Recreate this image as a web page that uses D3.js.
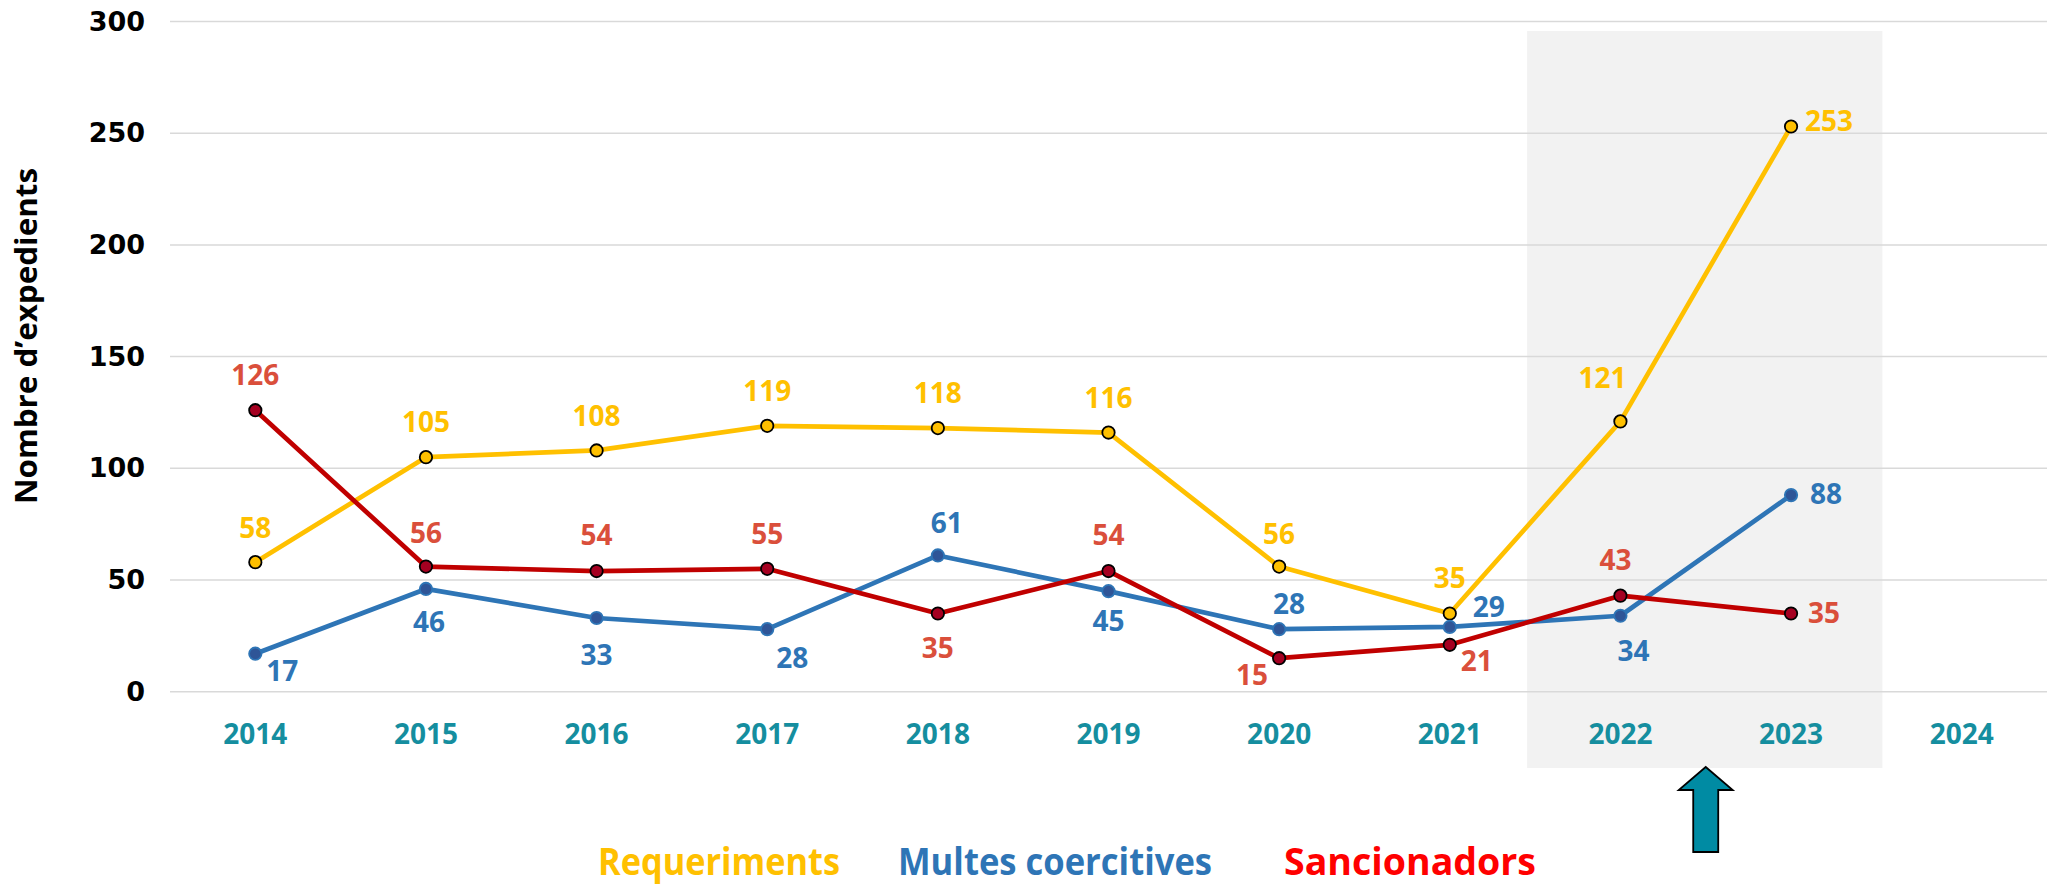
<!DOCTYPE html>
<html>
<head>
<meta charset="utf-8">
<script src="https://cdn.jsdelivr.net/npm/d3@7"></script>
<style>
  html, body { margin: 0; padding: 0; background: #fff; }
  svg { display: block; }
</style>
</head>
<body>
<svg id="chart" width="2055" height="885"></svg>
<script>
// ---- data ----
const years = ["2014","2015","2016","2017","2018","2019","2020","2021","2022","2023","2024"];
const requeriments = [58,105,108,119,118,116,56,35,121,253];
const multes = [17,46,33,28,61,45,28,29,34,88];
const sancionadors = [126,56,54,55,35,54,15,21,43,35];
const yTicks = [0,50,100,150,200,250,300];
const seriesNames = ["Requeriments","Multes coercitives","Sancionadors"];
const yTitle = "Nombre d\u2019expedients";

// ---- label offsets (style) ----
const offReq = [[0,-34],[0,-35],[0,-35],[0,-35],[0,-35],[0,-35],[0,-33],[0,-36],[-18,-43],[38,-6]];
const offMul = [[27,17],[3,33],[0,37],[25,29],[9,-33],[0,30],[10,-25],[39,-20],[13,35],[35,-1]];
const offSan = [[0,-35],[0,-34],[0,-36],[0,-35],[0,34],[0,-36],[-27,17],[27,16],[-5,-36],[33,-1]];

const svg = d3.select("#chart");
const x = d3.scaleBand().domain(years).range([170, 2047]);
const y = d3.scaleLinear().domain([0, 300]).range([691.7, 21.5]);
const cx = d => x(d) + x.bandwidth() / 2;

// shaded band 2022-2023
svg.append("rect")
  .attr("x", x("2022") - 8)
  .attr("y", 31)
  .attr("width", x("2023") + x.bandwidth() + 6 - (x("2022") - 8))
  .attr("height", 768 - 31)
  .attr("fill", "#F2F2F2");

// gridlines
svg.append("g").selectAll("line").data(yTicks).join("line")
  .attr("x1", 170).attr("x2", 2047)
  .attr("y1", d => y(d)).attr("y2", d => y(d))
  .attr("stroke", "#D9D9D9").attr("stroke-width", 1.5);

// y axis
const yAxis = svg.append("g").attr("transform", "translate(170,0)")
  .call(d3.axisLeft(y).tickValues(yTicks).tickSize(0).tickPadding(25));
yAxis.select(".domain").remove();
yAxis.selectAll("text")
  .attr("font-family", "'DejaVu Sans', Verdana, sans-serif")
  .attr("font-weight", "bold").attr("font-size", 27).attr("fill", "#000");

// x axis
const xAxis = svg.append("g").attr("transform", `translate(0,${y(0)})`)
  .call(d3.axisBottom(x).tickSize(0).tickPadding(32));
xAxis.select(".domain").remove();
xAxis.selectAll("text")
  .attr("font-family", "'Open Sans', sans-serif")
  .attr("font-weight", "bold").attr("font-size", 28).attr("fill", "#158E9F");

// y title
svg.append("text")
  .attr("transform", "translate(37,336) rotate(-90)")
  .attr("text-anchor", "middle")
  .attr("font-family", "'Open Sans', sans-serif").attr("font-weight", "bold")
  .attr("font-size", 31).attr("fill", "#000")
  .attr("textLength", 336).attr("lengthAdjust", "spacingAndGlyphs")
  .text(yTitle);

// series
const line = d3.line().x((d, i) => cx(years[i])).y(d => y(d));
const series = [
  { vals: requeriments, line: "#FFC000", mFill: "#FFC000", mStroke: "#000", label: "#FFC000", off: offReq },
  { vals: multes, line: "#2E75B6", mFill: "#2F5597", mStroke: "#2E75B6", label: "#2E75B6", off: offMul },
  { vals: sancionadors, line: "#C00000", mFill: "#A50021", mStroke: "#000", label: "#DA4F3B", off: offSan }
];

series.forEach(s => {
  svg.append("path").datum(s.vals)
    .attr("d", line).attr("fill", "none")
    .attr("stroke", s.line).attr("stroke-width", 4.7).attr("stroke-linejoin", "round");
});
series.forEach(s => {
  svg.append("g").selectAll("circle").data(s.vals).join("circle")
    .attr("cx", (d, i) => cx(years[i])).attr("cy", d => y(d))
    .attr("r", 6.2).attr("fill", s.mFill)
    .attr("stroke", s.mStroke).attr("stroke-width", 1.8);
});
series.forEach(s => {
  svg.append("g").selectAll("text").data(s.vals).join("text")
    .attr("x", (d, i) => cx(years[i]) + s.off[i][0])
    .attr("y", (d, i) => y(d) + s.off[i][1])
    .attr("dy", "0.36em").attr("text-anchor", "middle")
    .attr("font-family", "'Open Sans', sans-serif").attr("font-weight", "bold")
    .attr("font-size", 28).attr("fill", s.label)
    .text(d => d);
});

// arrow
const ax = x("2023");
const arrowPts = [[ax, 767],[ax + 27, 790],[ax + 12.5, 790],[ax + 12.5, 852],[ax - 12.5, 852],[ax - 12.5, 790],[ax - 27, 790]];
svg.append("path")
  .attr("d", d3.line()(arrowPts) + "Z")
  .attr("fill", "#008BA3").attr("stroke", "#000").attr("stroke-width", 1.8);

// legend
const legend = [
  { name: seriesNames[0], x: 598, w: 242, color: "#FFC000" },
  { name: seriesNames[1], x: 898, w: 314, color: "#2E75B6" },
  { name: seriesNames[2], x: 1284, w: 252, color: "#FF0000" }
];
svg.append("g").selectAll("text").data(legend).join("text")
  .attr("x", d => d.x).attr("y", 875)
  .attr("font-family", "'Open Sans', sans-serif").attr("font-weight", "bold")
  .attr("font-size", 37).attr("fill", d => d.color)
  .attr("textLength", d => d.w).attr("lengthAdjust", "spacingAndGlyphs")
  .text(d => d.name);
</script>
</body>
</html>
